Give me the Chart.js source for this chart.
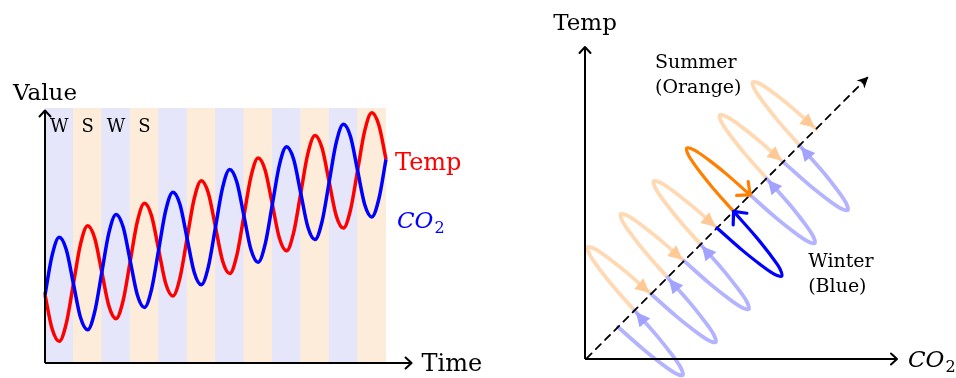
<!DOCTYPE html>
<html><head><meta charset="utf-8">
<script src="https://cdn.jsdelivr.net/npm/chart.js@4.4.1/dist/chart.umd.min.js"></script>
<style>
html,body{margin:0;padding:0;background:#fff;width:956px;height:378px;overflow:hidden;}
#c1{position:absolute;left:0;top:0;}
#c2{position:absolute;left:490px;top:0;}
</style></head><body>
<canvas id="c1" width="490" height="378"></canvas>
<canvas id="c2" width="466" height="378"></canvas>
<script>
// ---------- Left panel: time series ----------
const timeX = [0,0.25,0.5,0.75,1,1.25,1.5,1.75,2,2.25,2.5,2.75,3,3.25,3.5,3.75,4,4.25,4.5,4.75,5,5.25,5.5,5.75,6,6.25,6.5,6.75,7,7.25,7.5,7.75,8,8.25,8.5,8.75,9,9.25,9.5,9.75,10,10.25,10.5,10.75,11,11.25,11.5,11.75,12];
const co2Values = [2.67,4.22,4.93,4.44,3.11,1.78,1.30,2.01,3.56,5.11,5.82,5.33,4.00,2.67,2.18,2.89,4.44,5.99,6.70,6.22,4.89,3.56,3.07,3.78,5.33,6.88,7.59,7.10,5.77,4.44,3.95,4.67,6.22,7.77,8.48,7.99,6.66,5.33,4.84,5.55,7.10,8.65,9.36,8.88,7.55,6.22,5.73,6.44,7.99];
const tempValues = [2.67,1.34,0.85,1.56,3.11,4.66,5.38,4.89,3.56,2.23,1.74,2.45,4.00,5.55,6.26,5.77,4.44,3.11,2.63,3.34,4.89,6.44,7.15,6.66,5.33,4.00,3.51,4.22,5.77,7.32,8.04,7.55,6.22,4.89,4.40,5.11,6.66,8.21,8.92,8.43,7.10,5.77,5.29,6.00,7.55,9.10,9.81,9.32,7.99];
const bandCenters = [0.5,1.5,2.5,3.5,4.5,5.5,6.5,7.5,8.5,9.5,10.5,11.5];
const bandValues = [10,10,10,10,10,10,10,10,10,10,10,10];
const seasons = ['W','S','W','S','W','S','W','S','W','S','W','S'];
const seasonLabels = ['W','S','W','S'];

// ---------- Right panel: phase diagram (CO2, Temp) ----------
const blueLoops = [
  [[1.00,0.97],[1.77,0.29],[2.31,-0.14],[2.63,-0.37],[2.82,-0.47],[2.96,-0.49],[2.94,-0.35],[2.84,-0.16],[2.61,0.16],[2.18,0.70],[1.50,1.47]],
  [[2.00,1.97],[2.77,1.29],[3.31,0.86],[3.63,0.63],[3.82,0.53],[3.96,0.51],[3.94,0.65],[3.84,0.84],[3.61,1.16],[3.18,1.70],[2.50,2.47]],
  [[3.00,2.97],[3.77,2.29],[4.31,1.86],[4.63,1.63],[4.82,1.53],[4.96,1.51],[4.94,1.65],[4.84,1.84],[4.61,2.16],[4.18,2.70],[3.50,3.47]],
  [[4.00,3.97],[4.77,3.29],[5.31,2.86],[5.63,2.63],[5.82,2.53],[5.96,2.51],[5.94,2.65],[5.84,2.84],[5.61,3.16],[5.18,3.70],[4.50,4.47]],
  [[5.00,4.97],[5.77,4.29],[6.31,3.86],[6.63,3.63],[6.82,3.53],[6.96,3.51],[6.94,3.65],[6.84,3.84],[6.61,4.16],[6.18,4.70],[5.50,5.47]],
  [[6.00,5.97],[6.77,5.29],[7.31,4.86],[7.63,4.63],[7.82,4.53],[7.96,4.51],[7.94,4.65],[7.84,4.84],[7.61,5.16],[7.18,5.70],[6.50,6.47]]
];
const orangeLoops = [
  [[1.50,1.47],[0.84,2.22],[0.42,2.75],[0.20,3.06],[0.10,3.25],[0.08,3.39],[0.22,3.37],[0.41,3.27],[0.72,3.05],[1.25,2.63],[2.00,1.97]],
  [[2.50,2.47],[1.84,3.22],[1.42,3.75],[1.20,4.06],[1.10,4.25],[1.08,4.39],[1.22,4.37],[1.41,4.27],[1.72,4.05],[2.25,3.63],[3.00,2.97]],
  [[3.50,3.47],[2.84,4.22],[2.42,4.75],[2.20,5.06],[2.10,5.25],[2.08,5.39],[2.22,5.37],[2.41,5.27],[2.72,5.05],[3.25,4.63],[4.00,3.97]],
  [[4.50,4.47],[3.84,5.22],[3.42,5.75],[3.20,6.06],[3.10,6.25],[3.08,6.39],[3.22,6.37],[3.41,6.27],[3.72,6.05],[4.25,5.63],[5.00,4.97]],
  [[5.50,5.47],[4.84,6.22],[4.42,6.75],[4.20,7.06],[4.10,7.25],[4.08,7.39],[4.22,7.37],[4.41,7.27],[4.72,7.05],[5.25,6.63],[6.00,5.97]],
  [[6.50,6.47],[5.84,7.22],[5.42,7.75],[5.20,8.06],[5.10,8.25],[5.08,8.39],[5.22,8.37],[5.41,8.27],[5.72,8.05],[6.25,7.63],[7.00,6.97]]
];
const trendLine = [[0.05,0.02],[8.58,8.55]];
const highlightIndex = 3;

// ---------- helpers ----------
const SERIF = '"DejaVu Serif", serif';
function openArrow(ctx, x, y, ang, len, half, lw, color){
  ctx.save(); ctx.translate(x,y); ctx.rotate(ang);
  ctx.strokeStyle=color; ctx.lineWidth=lw; ctx.lineCap='round'; ctx.lineJoin='round';
  ctx.beginPath();
  ctx.moveTo(-len,-half);
  ctx.quadraticCurveTo(-len*0.25,-half*0.25,0,0);
  ctx.quadraticCurveTo(-len*0.25,half*0.25,-len,half);
  ctx.stroke(); ctx.restore();
}
function filledArrow(ctx, x, y, ang, len, half, color, notch){
  ctx.save(); ctx.translate(x,y); ctx.rotate(ang);
  ctx.fillStyle=color;
  ctx.beginPath();
  ctx.moveTo(0,0); ctx.lineTo(-len,-half); ctx.lineTo(-len+notch,0); ctx.lineTo(-len,half);
  ctx.closePath(); ctx.fill(); ctx.restore();
}
function line(ctx,x1,y1,x2,y2,lw){
  ctx.save(); ctx.strokeStyle='#000'; ctx.lineWidth=lw; ctx.beginPath();
  ctx.moveTo(x1,y1); ctx.lineTo(x2,y2); ctx.stroke(); ctx.restore();
}
function co2Text(ctx, x, y, color, size){
  ctx.save(); ctx.fillStyle=color; ctx.textBaseline='alphabetic'; ctx.textAlign='left';
  ctx.font='italic '+size+'px '+SERIF;
  ctx.fillText('CO', x, y);
  const w = ctx.measureText('CO').width;
  ctx.font=Math.round(size*0.68)+'px '+SERIF;
  ctx.fillText('2', x+w+1, y+5);
  ctx.restore();
}

// ---------- left chart ----------
const leftDecor = {
  id:'leftDecor',
  afterDraw(chart, args, opts){
    const {ctx, scales:{x,y}} = chart;
    const x0 = x.getPixelForValue(0), y0 = y.getPixelForValue(0);
    const xTip = x.getPixelForValue(opts.xEnd), yTip = y.getPixelForValue(opts.yEnd);
    line(ctx, x0, y0, xTip, y0, 2);
    line(ctx, x0, y0, x0, yTip, 2);
    openArrow(ctx, xTip, y0, 0, 6, 5.5, 2, '#000');
    openArrow(ctx, x0, yTip, -Math.PI/2, 6, 5.5, 2, '#000');
    ctx.save();
    ctx.fillStyle='#000';
    ctx.font='23px '+SERIF; ctx.textAlign='center'; ctx.textBaseline='alphabetic';
    ctx.fillText('Value', x0, yTip-11);
    ctx.textAlign='left';
    ctx.font='24px '+SERIF;
    ctx.fillText('Time', xTip+10, y0+8);
    ctx.font='18px '+SERIF; ctx.textAlign='center';
    seasonLabels.forEach((s,i)=>{
      ctx.fillText(s, x.getPixelForValue(bandCenters[i]), chart.chartArea.top+24);
    });
    const co2Meta = chart.getDatasetMeta(0), tempMeta = chart.getDatasetMeta(1);
    const lastT = tempMeta.data[tempMeta.data.length-1];
    const lastC = co2Meta.data[co2Meta.data.length-1];
    ctx.fillStyle='#ff0000'; ctx.font='24px '+SERIF; ctx.textAlign='left';
    ctx.fillText('Temp', lastT.x+9, lastT.y+11);
    ctx.restore();
    co2Text(ctx, lastC.x+11, lastC.y+69, '#0000ff', 23);
  }
};

new Chart(document.getElementById('c1'), {
  type:'line',
  data:{datasets:[
    {label:'CO2', data: timeX.map((t,i)=>({x:t, y:co2Values[i]})), borderColor:'#0000ff', borderWidth:3.5,
     pointRadius:0, cubicInterpolationMode:'monotone', capBezierPoints:false, order:0, clip:false},
    {label:'Temp', data: timeX.map((t,i)=>({x:t, y:tempValues[i]})), borderColor:'#ff0000', borderWidth:3.5,
     pointRadius:0, cubicInterpolationMode:'monotone', capBezierPoints:false, order:1, clip:false},
    {type:'bar', label:'Season', data: bandCenters.map((c,i)=>({x:c, y:bandValues[i]})),
     backgroundColor: seasons.map(s=> s==='W' ? '#e6e6fb' : '#feecda'),
     barPercentage:1, categoryPercentage:1, borderWidth:0, order:2}
  ]},
  options:{
    responsive:false, animation:false, devicePixelRatio:1, events:[],
    layout:{padding:{left:45,right:104,top:108,bottom:15}},
    plugins:{legend:{display:false}, tooltip:{enabled:false}, leftDecor:{xEnd:12.9, yEnd:9.9}},
    scales:{
      x:{type:'linear', min:0, max:12, display:false, offset:false, ticks:{stepSize:1}},
      y:{type:'linear', min:0, max:10, display:false}
    }
  },
  plugins:[leftDecor]
});

// ---------- right chart ----------
const rightDatasets = [];
blueLoops.forEach((loop,i)=>{
  const hi = i===highlightIndex;
  rightDatasets.push({label:'Winter', data: loop.map(p=>({x:p[0],y:p[1]})),
    borderColor: hi ? '#0000ff' : '#b3b3ff', borderWidth: hi ? 3.2 : 3.8,
    arrow: hi ? 'open' : 'fill', arrowColor: hi ? '#0000ff' : '#a2a2ff', order: hi ? 0 : 2});
});
orangeLoops.forEach((loop,i)=>{
  const hi = i===highlightIndex;
  rightDatasets.push({label:'Summer', data: loop.map(p=>({x:p[0],y:p[1]})),
    borderColor: hi ? '#ff8000' : '#ffd9b3', borderWidth: hi ? 3.2 : 3.8,
    arrow: hi ? 'open' : 'fill', arrowColor: hi ? '#ff8000' : '#ffc996', order: hi ? 0 : 2});
});
rightDatasets.push({label:'Trend', data: trendLine.map(p=>({x:p[0],y:p[1]})),
  borderColor:'#000', borderWidth:1.8, borderDash:[7,6], tension:0, arrow:'stealth', arrowColor:'#000', order:1});
rightDatasets.forEach(d=>{ d.pointRadius=0; d.clip=false; d.capBezierPoints=false; if(d.tension===undefined) d.tension=0.4; d.borderCapStyle='round'; d.borderJoinStyle='round'; });

const rightDecor = {
  id:'rightDecor',
  afterDatasetDraw(chart, args){
    const ds = chart.data.datasets[args.index];
    if(!ds.arrow) return;
    const pts = args.meta.data;
    const a = pts[pts.length-1];
    const b = ds.arrow==='stealth' ? pts[0] : pts[pts.length-3];
    const ang = Math.atan2(a.y-b.y, a.x-b.x);
    const ctx = chart.ctx;
    if(ds.arrow==='fill') filledArrow(ctx, a.x-2*Math.cos(ang), a.y-2*Math.sin(ang), ang, 14, 7, ds.arrowColor, 0);
    else if(ds.arrow==='open') openArrow(ctx, a.x, a.y, ang, 10, 9, 3.2, ds.arrowColor);
    else filledArrow(ctx, a.x, a.y, ang, 11, 5.5, ds.arrowColor, 3);
  },
  afterDraw(chart, args, opts){
    const {ctx, scales:{x,y}} = chart;
    const x0 = x.getPixelForValue(0), y0 = y.getPixelForValue(0);
    const xTip = x.getPixelForValue(opts.xEnd), yTip = y.getPixelForValue(opts.yEnd);
    line(ctx, x0, y0, xTip, y0, 2);
    line(ctx, x0, y0, x0, yTip, 2);
    openArrow(ctx, xTip, y0, 0, 6, 5.5, 2, '#000');
    openArrow(ctx, x0, yTip, -Math.PI/2, 6, 5.5, 2, '#000');
    ctx.save();
    ctx.fillStyle='#000'; ctx.font='23px '+SERIF; ctx.textAlign='center'; ctx.textBaseline='alphabetic';
    ctx.fillText('Temp', x0, yTip-17);
    ctx.font='19px '+SERIF; ctx.textAlign='left';
    opts.notes.forEach(n=>{
      const nx = x.getPixelForValue(n.x), ny = y.getPixelForValue(n.y);
      n.lines.forEach((t,k)=> ctx.fillText(t, nx, ny + k*25));
    });
    ctx.restore();
    co2Text(ctx, xTip+11, y0+8, '#000', 23);
  }
};

new Chart(document.getElementById('c2'), {
  type:'line',
  data:{datasets: rightDatasets},
  options:{
    responsive:false, animation:false, devicePixelRatio:1, events:[],
    layout:{padding:{left:95,right:59,top:47,bottom:19}},
    plugins:{legend:{display:false}, tooltip:{enabled:false},
      rightDecor:{xEnd:9.45, yEnd:9.45,
        notes:[{lines:['Summer','(Orange)'], x:2.12, y:8.82},{lines:['Winter','(Blue)'], x:6.76, y:2.79}]}},
    scales:{
      x:{type:'linear', min:0, max:9.45, display:false},
      y:{type:'linear', min:0, max:9.45, display:false}
    }
  },
  plugins:[rightDecor]
});
</script>
</body></html>
